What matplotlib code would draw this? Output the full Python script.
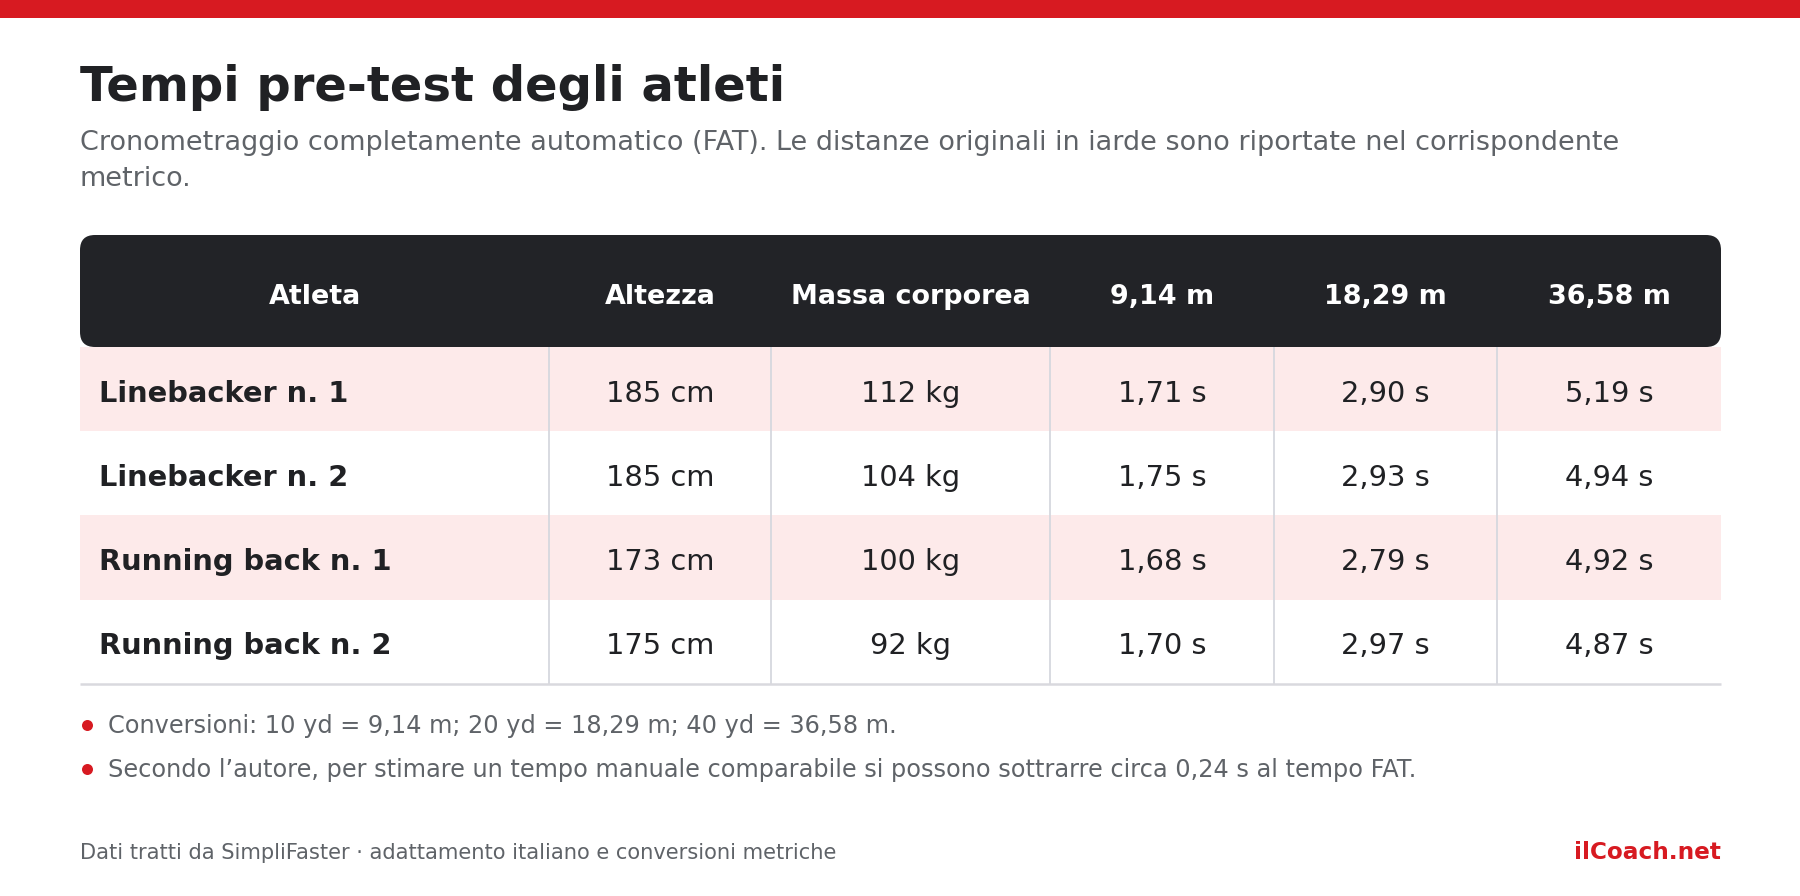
import matplotlib
matplotlib.use("Agg")
import matplotlib.pyplot as plt
from matplotlib.patches import FancyBboxPatch, Rectangle, Circle

plt.rcParams['font.family'] = ['DejaVu Sans']

# ---- data ----
title = "Tempi pre-test degli atleti"
subtitle_lines = ["Cronometraggio completamente automatico (FAT). Le distanze originali in iarde sono riportate nel corrispondente",
                  "metrico."]
headers = ["Atleta", "Altezza", "Massa corporea", "9,14 m", "18,29 m", "36,58 m"]
athletes = ["Linebacker n. 1", "Linebacker n. 2", "Running back n. 1", "Running back n. 2"]
height_cm = [185, 185, 173, 175]
mass_kg = [112, 104, 100, 92]
t_914 = [1.71, 1.75, 1.68, 1.70]
t_1829 = [2.90, 2.93, 2.79, 2.97]
t_3658 = [5.19, 4.94, 4.92, 4.87]
notes = ["Conversioni: 10 yd = 9,14 m; 20 yd = 18,29 m; 40 yd = 36,58 m.",
         "Secondo l\u2019autore, per stimare un tempo manuale comparabile si possono sottrarre circa 0,24 s al tempo FAT."]
source = "Dati tratti da SimpliFaster \u00b7 adattamento italiano e conversioni metriche"
brand = "ilCoach.net"

# ---- style ----
RED = "#d71a21"
DARK = "#222327"
PINK = "#fdeaea"
TXT = "#202124"
GREY = "#5f6368"
LINE = "#d6d8de"

W, H = 1800, 896
fig = plt.figure(figsize=(W / 100, H / 100), dpi=100)
fig.patch.set_facecolor("white")
ax = fig.add_axes([0, 0, 1, 1])
ax.set_xlim(0, W)
ax.set_ylim(H, 0)
ax.axis("off")

def pt(px):
    return px * 0.72

def fmt(v, unit, dec=2):
    s = f"{v:.{dec}f}".replace(".", ",")
    return f"{s} {unit}"

# top red bar
ax.add_patch(Rectangle((0, 0), W, 18.5, color=RED, lw=0))

# title / subtitle
ax.text(80, 101, title, fontsize=pt(48), fontweight="bold", color=TXT, va="baseline", ha="left")
for k, line in enumerate(subtitle_lines):
    ax.text(80, 150.5 + k * 35, line, fontsize=pt(27), color=GREY, va="baseline", ha="left")

# table geometry (layout)
col_x = [80, 549, 771, 1050, 1274, 1497, 1721]
head_top, head_bot = 235, 347
row_h = 84.25

# header
ax.add_patch(FancyBboxPatch((col_x[0], head_top), col_x[-1] - col_x[0], head_bot - head_top,
                            boxstyle="round,pad=0,rounding_size=15", fc=DARK, ec="none", lw=0))
for i, h in enumerate(headers):
    cx = (col_x[i] + col_x[i + 1]) / 2
    ax.text(cx, 304, h, fontsize=pt(27), fontweight="bold", color="white", ha="center", va="baseline")

# body
rows = []
for i in range(len(athletes)):
    rows.append([f"{height_cm[i]} cm", f"{mass_kg[i]} kg",
                 fmt(t_914[i], "s"), fmt(t_1829[i], "s"), fmt(t_3658[i], "s")])

for r, name in enumerate(athletes):
    y0 = head_bot + r * row_h
    if r % 2 == 0:
        ax.add_patch(Rectangle((col_x[0], y0), col_x[-1] - col_x[0], row_h, fc=PINK, ec="none", lw=0))
    yb = y0 + row_h / 2 + 12.5
    ax.text(99, yb, name, fontsize=pt(28.9), fontweight="bold", color=TXT, ha="left", va="baseline")
    for c, val in enumerate(rows[r]):
        cx = (col_x[c + 1] + col_x[c + 2]) / 2
        ax.text(cx, yb, val, fontsize=pt(28.9), color=TXT, ha="center", va="baseline")

table_bot = head_bot + len(athletes) * row_h
for x in col_x[1:-1]:
    ax.plot([x, x], [head_bot, table_bot], color=LINE, lw=1.3, solid_capstyle="butt")
ax.plot([col_x[0], col_x[-1]], [table_bot, table_bot], color="#d9d9de", lw=1.8, solid_capstyle="butt")

# notes
for k, n in enumerate(notes):
    yb = 733 + k * 44
    ax.add_patch(Circle((87.5, yb - 7.5), 5.5, fc=RED, ec="none"))
    ax.text(108, yb, n, fontsize=pt(24), color=GREY, ha="left", va="baseline")

# footer
ax.text(80, 859, source, fontsize=pt(21), color=GREY, ha="left", va="baseline")
ax.text(1721, 859, brand, fontsize=pt(23.1), fontweight="bold", color=RED, ha="right", va="baseline")

fig.savefig("out.png", dpi=100, facecolor="white")
